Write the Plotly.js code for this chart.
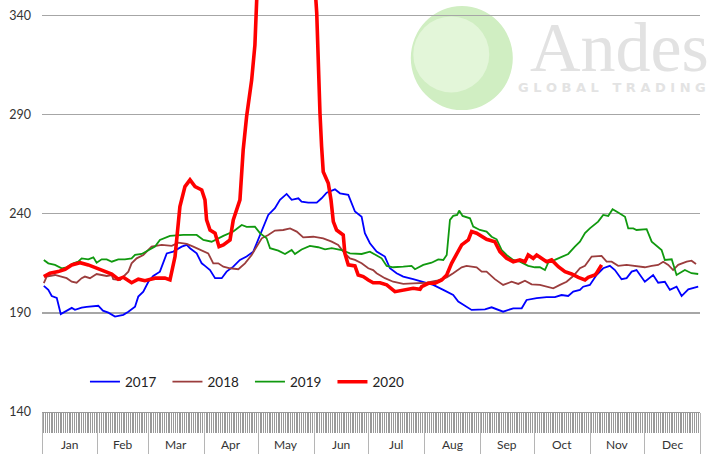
<!DOCTYPE html>
<html><head><meta charset="utf-8">
<script src="https://cdn.plot.ly/plotly-3.0.1.min.js"></script>
<style>html,body{margin:0;padding:0;background:#fff}#chart{width:711px;height:454px}</style>
</head><body><div id="chart"></div>
<script>
const months = ['Jan','Feb','Mar','Apr','May','Jun','Jul','Aug','Sep','Oct','Nov','Dec'];
const monthStarts = [0,31,59,90,120,151,181,212,243,273,304,334,365];
const yTicks = [140,190,240,290,340];
const seriesNames = ['2017','2018','2019','2020'];

const days2017 = [1,3.5,5.4,8.2,10.4,12.8,16.5,18.3,22,24.8,28.5,31.2,33.8,36.8,40.5,45.1,47.9,51.6,53.4,56.2,59,61.7,65.4,69.2,72.8,77.5,80.3,82.1,85.8,88.6,90.4,93.2,96,99.7,102.4,106.1,109.8,113.5,117.2,121.9,125.5,129.2,132,135.7,138.5,142.2,144,147.7,152.4,155.1,157.9,162.5,165.3,169.9,173.6,177.3,179.1,181.9,185.6,190.2,193,196.7,200.4,205.9,211.5,217,222.6,228.1,230.9,235.5,238.3,245.7,249.4,255.8,261.4,266.1,268.8,274.4,279.9,284.5,288.2,291.9,294.7,298.4,300.2,303.9,307.6,311.3,315,317.8,321.5,324.3,327.1,329.8,334.4,339,341.8,345.5,348.3,352,354.8,358.5,361.2,364];
const vals2017 = [203.6,201.6,198.5,197.5,189.4,190.6,192.5,191.5,192.6,193,193.5,193.6,191.1,190.1,188.1,189,190.6,193.1,198.2,200.7,205.7,208.6,210.8,220,220.9,223.4,224.3,222.6,220,215,213.7,211.6,207.5,207.5,210.8,213.3,216.7,218.4,220.9,231.8,239.4,242.8,247,250,247,247.8,246.1,245.6,245.6,247.8,250.6,252.3,250.3,249.5,241.1,238.5,230.2,225.1,220.9,218.4,212.5,210,208.3,207,205.7,204.1,201.6,199,195.7,193.1,191.5,191.8,192.8,190.6,192.3,192.3,196.5,197.4,197.9,197.9,199,198.5,200.7,201.6,203.2,204.1,209.1,212.5,213.7,211.6,207,207.5,210.8,211.6,205.7,209.1,205.2,205.7,201.6,203.2,198.5,201.9,202.4,203.2];

const days2018 = [1,2.6,7.2,10.9,13.7,16.5,19.2,22,23.8,26.6,30.3,33.1,35.9,38.7,39.5,43.3,46,47.9,49.7,52.5,56.2,60.8,66.4,72,75.6,80.3,83.9,88.6,92.2,95,97.8,100.6,104.3,108.9,112.6,116.3,120,121.9,125.5,129.2,133.8,137.6,141.3,144.9,150.5,156,160.7,164.3,167.1,170.8,173.6,177.3,181,183.7,185.6,190.2,194.8,200.4,205.9,213.4,218.9,224.5,228.1,232.8,235.5,241.1,243.9,246.6,251.2,255.8,260.5,264.2,267.9,271.6,276.2,280.8,283.6,287.3,291,294.7,298.4,301.2,304.9,310.4,313.2,316,319.6,324.3,329.8,334.4,338.2,341.8,344.6,347.4,350.1,352.9,357.6,360.3,362.8];
const vals2018 = [205,208.3,209.1,208.3,207.5,205.7,205.2,207.5,208.3,207.5,209.6,209.1,208.6,209.1,207,206.6,209.1,210.8,215,217.5,219.2,223.4,224.3,223.8,225.4,224.8,223.4,221.4,220,215,215,213.3,212.5,212,215,219.2,224.3,227.6,229.3,231.5,231.8,232.6,231,228.1,228.4,227.6,225.9,224.3,220.9,217.5,216.7,215,212.5,211.6,210,207.5,205.7,204.6,204.9,205.2,206.2,207.9,210,213,213.7,213,210.8,210.8,207,204.1,205.7,204.6,206.2,204.4,204.1,202.9,202.4,204.1,205.7,208.6,212.5,213.7,218.4,218.7,215.8,215.8,213.7,214.2,213.7,213,213.7,214.2,215.8,214.2,211.6,214.2,215.8,216.3,214.6];

const days2019 = [1,3.5,7.2,10.9,13.7,17.4,20.1,22,25.7,28.5,30.3,33.1,35.9,38.7,42.3,46,49.7,51.6,55.3,59,62.7,65.4,71,78.4,85.8,89.5,94.1,100.6,106.1,110.8,113.5,118.1,120.9,124.6,126.5,131.1,134.8,138.5,140.3,144,148.6,153.2,157,160.7,166.2,170.8,177.3,181.9,185.6,188.4,191.2,194.8,200.4,205,206.9,211.5,216.1,219.8,222.6,224.5,226.3,228.1,230.3,231.4,233.3,235.5,237.4,239.2,242.9,246.6,249.4,252.2,255,257.7,261.4,265.1,269.7,273.4,276.2,279,280.8,284.5,288.2,291.9,295.6,298.4,301.2,303.9,308.5,311.3,314.1,316.5,319.6,323.4,325.2,328,329.8,335.4,338.2,341.8,343.7,345.5,349.3,352,356.6,360.3,364];
const vals2019 = [216.7,215,214.2,212.5,213,215,215.8,217.5,217,218,215.3,217,217,215.8,217,217,217.5,219.2,219.7,221.7,223.4,226.8,228.8,229.3,229.3,226.8,225.9,228.8,231,234.3,233.4,233.5,230.2,227.6,222.6,221.4,219.7,221.7,219.7,222,223.8,223.1,222,222.6,221.7,220,219.7,220.9,219.2,217.5,213.7,213,213.3,213.7,212,214.2,215.3,217,216.7,219.2,236.9,238.9,239.4,241.6,238.9,238.2,237.7,233.5,231.8,231,228.4,227.1,221.7,219.2,216.7,215.8,213.7,213,213,211.6,215.3,216.7,218.4,219.7,223.4,225.9,230.2,232.6,236,239.4,238.9,242.3,240.6,238.5,232.6,232.6,231.8,232.2,225.9,223.4,221.7,216.7,217,209.1,211.6,210,209.6];

const days2020 = [1,4.4,9,12.8,16.5,21.1,25.7,30.3,34.9,38.7,42.3,45.1,49.7,53.4,57.1,62.7,68.2,71,73.8,76.5,79.3,82.1,84.9,88.6,90.4,91.3,93.2,96,98.2,100.6,104.3,106.1,109.8,111.6,113.5,116.3,118.1,119.1,125,135,145,151.4,152.4,153.2,154.2,155.1,156,158.8,160.3,161.6,163.4,167.1,168,169.9,173.6,175.4,178.2,181,183.7,187.5,191.2,195.8,199.5,203.2,205.9,209.7,210.6,214.3,218,221.7,224.5,227.2,230,232.8,236.5,238.3,241.1,243.9,246.6,251.2,254,257.7,261.4,265.1,267.9,269.7,272.5,274.4,277.1,279.9,282.7,286.4,290.1,293.8,297.5,301.2,303,306.7,307.6,310.4];
const vals2020 = [208.3,210,210.8,212,214.2,215.3,214.2,212.5,210.8,209.6,207,208,205.2,207,206.2,207.5,207.5,206.6,218.4,243.6,253.7,257.1,253.7,252,247,236.9,231.8,230.2,223.4,224.3,226.8,236.9,247,272.2,289,307.4,325,348,375,385,380,355,341.2,314.2,290.7,273.9,261.2,255.4,247,236,231.8,229.3,220,214.2,213.7,209.1,208.3,206.6,205.2,205.2,204.1,200.7,201.2,201.9,202.4,201.9,203.2,204.9,204.9,206.6,209.1,215,220,224.3,226.8,231,230.2,228.4,227.1,225.9,220.9,217.5,215.8,216.7,215.8,219.2,217.5,219.2,217.5,215.8,216.7,213.3,210.8,209.6,207.9,206.6,207.9,209.1,210,214.2];

const colors = ['#0000ff','#9b3d3d','#10990f','#ff0000'];
const widths = [1.8,1.8,1.8,3.6];
const xs = [days2017,days2018,days2019,days2020];
const ys = [vals2017,vals2018,vals2019,vals2020];

const traces = seriesNames.map((n,i)=>({
  type:'scatter', mode:'lines', name:n, x:xs[i], y:ys[i],
  line:{color:colors[i], width:widths[i]}
}));

const txt = '#333333';
const font = 'Lato, "Open Sans", sans-serif';

const annotations = months.map((m,i)=>({
  text:m, xref:'x', yref:'paper',
  x:(monthStarts[i]+monthStarts[i+1])/2, y:-0.0777,
  xanchor:'center', yanchor:'middle', showarrow:false,
  font:{family:font, size:12, color:txt}
}));
annotations.push({
  text:'Andes', xref:'paper', yref:'paper', x:0.878, y:0.884,
  xanchor:'center', yanchor:'middle', showarrow:false,
  font:{family:'"Liberation Serif", "DejaVu Serif", serif', size:70, color:'#e2e2e2'}
});
annotations.push({
  text:'G\u00a0L\u00a0O\u00a0B\u00a0A\u00a0L\u00a0\u00a0\u00a0T\u00a0R\u00a0A\u00a0D\u00a0I\u00a0N\u00a0G', xref:'paper', yref:'paper', x:0.866, y:0.787,
  xanchor:'center', yanchor:'middle', showarrow:false,
  font:{family:'"DejaVu Sans", sans-serif', size:13, weight:'bold', color:'#e3e3e3'}
});

const shapes = [{
  type:'circle', xref:'paper', yref:'paper', xsizemode:'pixel', ysizemode:'pixel',
  xanchor:0.638, yanchor:0.859, x0:-51, x1:51, y0:-52, y1:52,
  fillcolor:'#d0eec2', line:{width:0}, layer:'below'
},{
  type:'circle', xref:'paper', yref:'paper', xsizemode:'pixel', ysizemode:'pixel',
  xanchor:0.622, yanchor:0.868, x0:-38, x1:38, y0:-38, y1:38,
  fillcolor:'#e3f6d9', line:{width:0}, layer:'below'
}];

const layout = {
  width:711, height:454,
  margin:{l:42, r:11, t:0, b:42},
  paper_bgcolor:'#ffffff', plot_bgcolor:'rgba(0,0,0,0)',
  showlegend:true,
  legend:{orientation:'h', x:0.0653, y:0.073, xanchor:'left', yanchor:'middle',
    font:{family:font, size:13.5, color:'#222'}, bgcolor:'rgba(0,0,0,0)', entrywidth:37.5},
  xaxis:{range:[0,365], tickmode:'array', tickvals:monthStarts, ticktext:monthStarts.map(()=>''),
    ticks:'outside', ticklen:42, tickcolor:'#b5b5b5', tickwidth:1,
    showgrid:false, zeroline:false, showline:true, linecolor:'#999999', linewidth:1,
    minor:{dtick:1, tick0:0, ticks:'outside', ticklen:20, tickcolor:'#9a9a9a', tickwidth:1, showgrid:false},
    fixedrange:true},
  yaxis:{range:[140,347.8], tickmode:'array', tickvals:yTicks, ticks:'',
    showgrid:true, gridcolor:'#a6a6a6', gridwidth:1.3, zeroline:false, showline:false,
    ticklabelstandoff:10, tickfont:{family:font, size:12.5, color:txt}, fixedrange:true},
  annotations, shapes
};

Plotly.newPlot('chart', traces, layout, {staticPlot:true, displayModeBar:false});
</script></body></html>
